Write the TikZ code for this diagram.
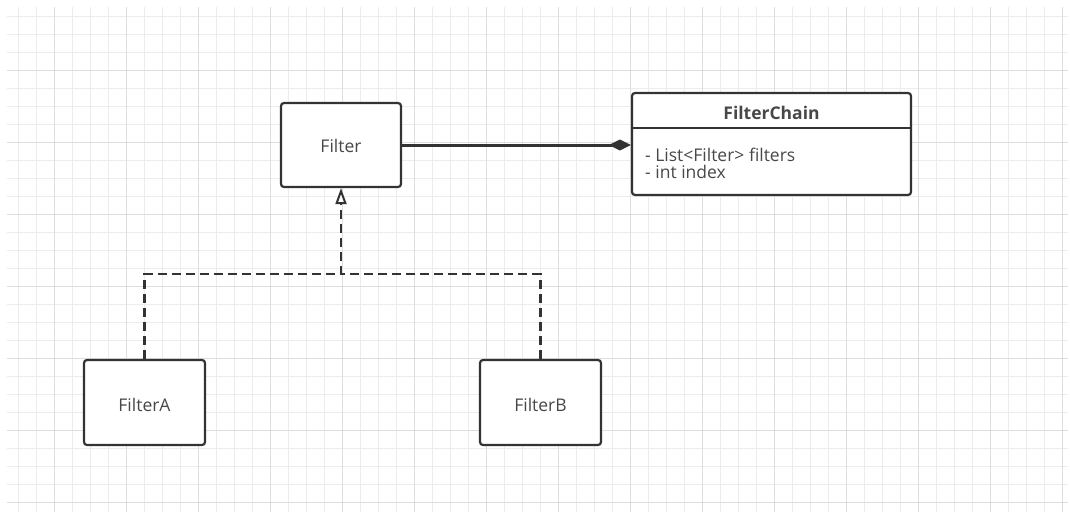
\documentclass[tikz,border=0pt]{standalone}
\usepackage{fontspec}
\setmainfont{Open Sans}
\usetikzlibrary{arrows.meta,positioning}
\definecolor{ink}{RGB}{51,51,51}
\definecolor{txt}{RGB}{72,72,72}
\definecolor{gridminor}{RGB}{236,236,236}
\definecolor{gridmajor}{RGB}{222,222,222}
\tikzset{
  cls/.style={draw=ink, line width=2.2pt, rounded corners=3pt, fill=white, minimum width=120pt, minimum height=84pt, inner sep=0pt, font=\fontsize{17}{18}\selectfont, text=txt},
  realize/.style={draw=ink, line width=2.4pt, dash pattern=on 9pt off 5pt, -{Triangle[open, length=16pt, width=11pt, line width=2pt, fill=white]}},
  compose/.style={draw=ink, line width=3pt, -{Diamond[length=22pt, width=11pt]}},
  lbl/.style={font=\fontsize{17.5}{18}\selectfont, text=txt, inner sep=0pt},
}
\begin{document}
\begin{tikzpicture}[x=1pt,y=-1pt]
\useasboundingbox (0,0) rectangle (1070,517);
\fill[white] (0,0) rectangle (1070,517);
% grid
\foreach \x in {18,36,...,1062} {\draw[gridminor, line width=1pt] (\x,7) -- (\x,512);}
\foreach \y in {16,34,...,508} {\draw[gridminor, line width=1pt] (7,\y) -- (1068,\y);}
\foreach \x in {54,126,...,1062} {\draw[gridmajor, line width=1pt] (\x,7) -- (\x,512);}
\foreach \y in {70,142,...,508} {\draw[gridmajor, line width=1pt] (7,\y) -- (1068,\y);}
% nodes
\node[cls] (filter) at (341,145) {};
\node[lbl, anchor=base] (filtert) at (341,152.5) {Filter};
\node[cls, minimum width=121pt, minimum height=85pt] (fa) at (144.5,402.5) {};
\node[lbl, anchor=base] (fat) at (144.5,411) {FilterA};
\node[cls, minimum width=121pt, minimum height=85pt] (fb) at (540.5,402.5) {};
\node[lbl, anchor=base] (fbt) at (540.5,411) {FilterB};
\node[draw=ink, line width=2.2pt, rounded corners=3pt, fill=white, minimum width=279pt, minimum height=102pt, inner sep=0pt] (fc) at (771.5,144) {};
\draw[ink, line width=1.8pt] (fc.west |- 0,128) coordinate (sepl) -- (fc.east |- 0,128) coordinate (sepr);
\node[lbl, font=\fontsize{17.5}{18}\selectfont\bfseries, anchor=base] (fctitle) at (771.5,119) {FilterChain};
\node[lbl, anchor=base west] (fca1) at (645,161) {- List<Filter> filters};
\node[lbl, anchor=base west] (fca2) at (645,178.5) {- int index};
% connectors
\coordinate (jn) at (341,274);
\draw[realize] (fa.north) |- (jn) -- (filter.south);
\draw[realize, -] (fb.north) |- (jn);
\draw[compose] (filter.east) -- (fc.west |- filter.east);
\end{tikzpicture}
\end{document}
